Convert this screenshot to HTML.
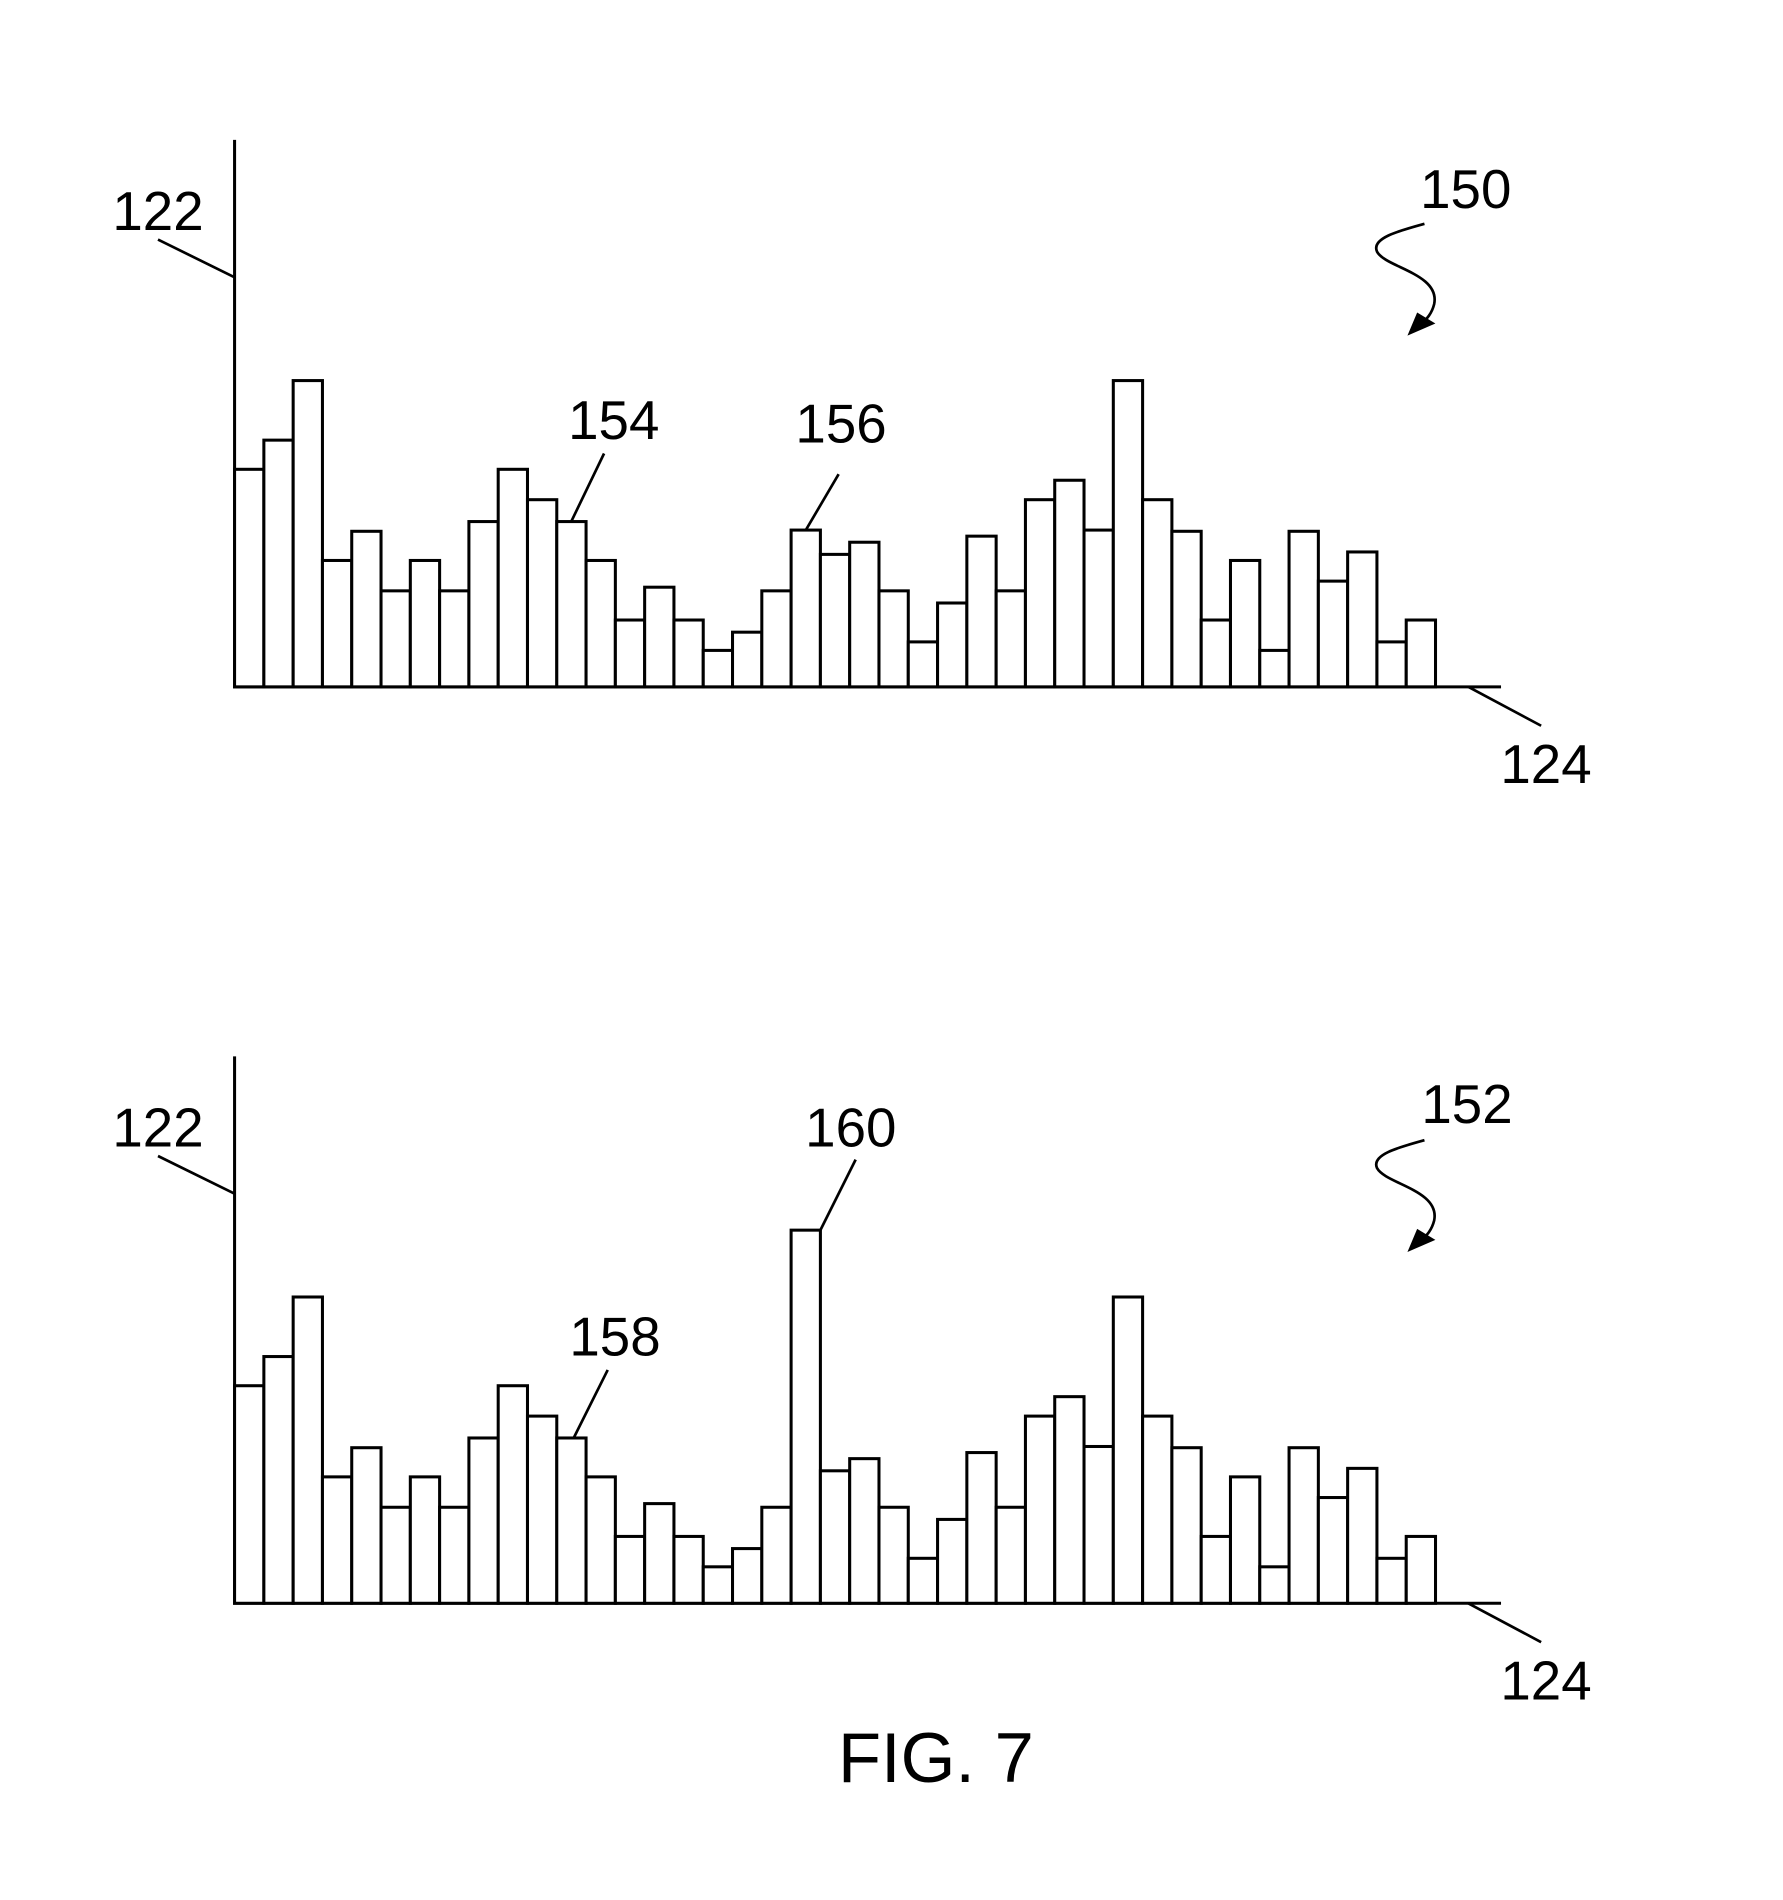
<!DOCTYPE html>
<html><head><meta charset="utf-8"><style>html,body{margin:0;padding:0;background:#fff}svg{display:block}</style></head>
<body>
<svg width="1783" height="1900" viewBox="0 0 1467 1563" xmlns="http://www.w3.org/2000/svg" font-family="Liberation Sans, Arial, sans-serif" font-size="45" fill="#000">
<defs>
<g id="bars" fill="none" stroke="#000" stroke-width="2.5">
</g>
</defs>
<g id="c1" fill="#fff" stroke="#000" stroke-width="2.5">
<path d="M193,115 V565 H1235"/>
<rect x="193.0" y="386" width="24.1" height="179"/><rect x="217.1" y="362" width="24.1" height="203"/><rect x="241.2" y="313" width="24.1" height="252"/><rect x="265.3" y="461" width="24.1" height="104"/><rect x="289.4" y="437" width="24.1" height="128"/><rect x="313.5" y="486" width="24.1" height="79"/><rect x="337.6" y="461" width="24.1" height="104"/><rect x="361.7" y="486" width="24.1" height="79"/><rect x="385.8" y="429" width="24.1" height="136"/><rect x="409.9" y="386" width="24.1" height="179"/><rect x="434.0" y="411" width="24.1" height="154"/><rect x="458.1" y="429" width="24.1" height="136"/><rect x="482.2" y="461" width="24.1" height="104"/><rect x="506.3" y="510" width="24.1" height="55"/><rect x="530.4" y="483" width="24.1" height="82"/><rect x="554.5" y="510" width="24.1" height="55"/><rect x="578.6" y="535" width="24.1" height="30"/><rect x="602.7" y="520" width="24.1" height="45"/><rect x="626.8" y="486" width="24.1" height="79"/><rect x="650.9" y="436" width="24.1" height="129"/><rect x="675.0" y="456" width="24.1" height="109"/><rect x="699.1" y="446" width="24.1" height="119"/><rect x="723.2" y="486" width="24.1" height="79"/><rect x="747.3" y="528" width="24.1" height="37"/><rect x="771.4" y="496" width="24.1" height="69"/><rect x="795.5" y="441" width="24.1" height="124"/><rect x="819.6" y="486" width="24.1" height="79"/><rect x="843.7" y="411" width="24.1" height="154"/><rect x="867.8" y="395" width="24.1" height="170"/><rect x="891.9" y="436" width="24.1" height="129"/><rect x="916.0" y="313" width="24.1" height="252"/><rect x="940.1" y="411" width="24.1" height="154"/><rect x="964.2" y="437" width="24.1" height="128"/><rect x="988.3" y="510" width="24.1" height="55"/><rect x="1012.4" y="461" width="24.1" height="104"/><rect x="1036.5" y="535" width="24.1" height="30"/><rect x="1060.6" y="437" width="24.1" height="128"/><rect x="1084.7" y="478" width="24.1" height="87"/><rect x="1108.8" y="454" width="24.1" height="111"/><rect x="1132.9" y="528" width="24.1" height="37"/><rect x="1157.0" y="510" width="24.1" height="55"/>
</g>
<g fill="#fff" stroke="#000" stroke-width="2.5">
<path d="M193,869 V1319 H1235"/>
<rect x="193.0" y="1140" width="24.1" height="179"/><rect x="217.1" y="1116" width="24.1" height="203"/><rect x="241.2" y="1067" width="24.1" height="252"/><rect x="265.3" y="1215" width="24.1" height="104"/><rect x="289.4" y="1191" width="24.1" height="128"/><rect x="313.5" y="1240" width="24.1" height="79"/><rect x="337.6" y="1215" width="24.1" height="104"/><rect x="361.7" y="1240" width="24.1" height="79"/><rect x="385.8" y="1183" width="24.1" height="136"/><rect x="409.9" y="1140" width="24.1" height="179"/><rect x="434.0" y="1165" width="24.1" height="154"/><rect x="458.1" y="1183" width="24.1" height="136"/><rect x="482.2" y="1215" width="24.1" height="104"/><rect x="506.3" y="1264" width="24.1" height="55"/><rect x="530.4" y="1237" width="24.1" height="82"/><rect x="554.5" y="1264" width="24.1" height="55"/><rect x="578.6" y="1289" width="24.1" height="30"/><rect x="602.7" y="1274" width="24.1" height="45"/><rect x="626.8" y="1240" width="24.1" height="79"/><rect x="650.9" y="1012" width="24.1" height="307"/><rect x="675.0" y="1210" width="24.1" height="109"/><rect x="699.1" y="1200" width="24.1" height="119"/><rect x="723.2" y="1240" width="24.1" height="79"/><rect x="747.3" y="1282" width="24.1" height="37"/><rect x="771.4" y="1250" width="24.1" height="69"/><rect x="795.5" y="1195" width="24.1" height="124"/><rect x="819.6" y="1240" width="24.1" height="79"/><rect x="843.7" y="1165" width="24.1" height="154"/><rect x="867.8" y="1149" width="24.1" height="170"/><rect x="891.9" y="1190" width="24.1" height="129"/><rect x="916.0" y="1067" width="24.1" height="252"/><rect x="940.1" y="1165" width="24.1" height="154"/><rect x="964.2" y="1191" width="24.1" height="128"/><rect x="988.3" y="1264" width="24.1" height="55"/><rect x="1012.4" y="1215" width="24.1" height="104"/><rect x="1036.5" y="1289" width="24.1" height="30"/><rect x="1060.6" y="1191" width="24.1" height="128"/><rect x="1084.7" y="1232" width="24.1" height="87"/><rect x="1108.8" y="1208" width="24.1" height="111"/><rect x="1132.9" y="1282" width="24.1" height="37"/><rect x="1157.0" y="1264" width="24.1" height="55"/>
</g>
<g fill="none" stroke="#000" stroke-width="2.2">
<path d="M130,197 L193,228"/><path d="M130,951 L193,982"/>
<path d="M1208,565 L1268,597"/><path d="M1208,1319 L1268,1351"/>
<path d="M470,429 L497,373"/><path d="M663,436 L690,390"/>
<path d="M675,1012 L704,954"/><path d="M472,1183 L500,1127"/>
<path d="M1172,184 C1150,190 1128,196 1133,207 C1140,220 1185,225 1180,250 C1178,258 1174,262 1170,266"/>
<path d="M1172,938 C1150,944 1128,950 1133,961 C1140,974 1185,979 1180,1004 C1178,1012 1174,1016 1170,1020"/>
</g>
<path d="M1158,276 L1166,257 L1181,266 Z"/>
<path d="M1158,1030 L1166,1011 L1181,1020 Z"/>
<g text-anchor="middle">
<text x="130" y="189">122</text><text x="130" y="943">122</text>
<text x="1272" y="644">124</text><text x="1272" y="1398">124</text>
<text x="1206" y="171">150</text><text x="1207" y="924">152</text>
<text x="505" y="361">154</text><text x="692" y="364">156</text>
<text x="700" y="943">160</text><text x="506" y="1115">158</text>
<text x="770" y="1466" font-size="58">FIG. 7</text>
</g>
</svg>
</body></html>
